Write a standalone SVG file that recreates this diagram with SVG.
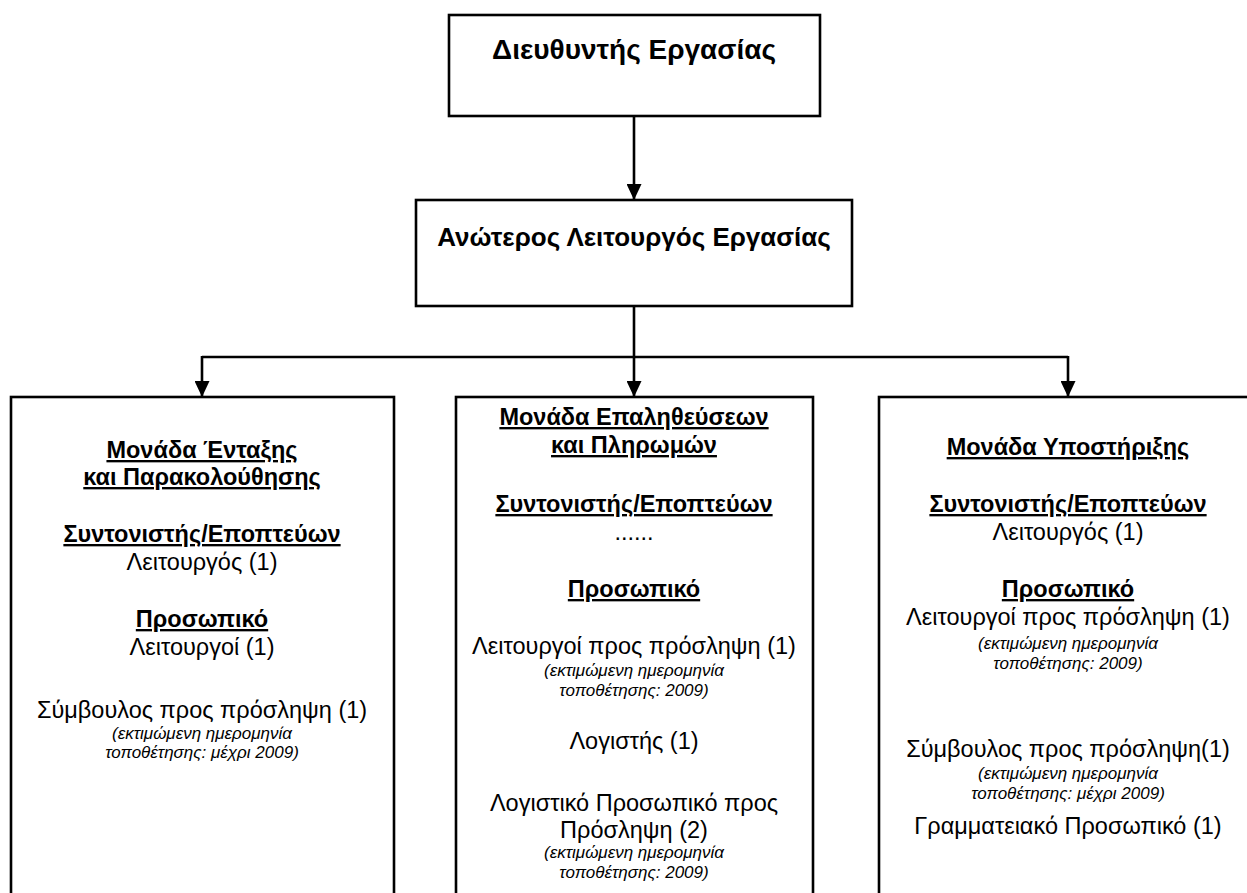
<svg xmlns="http://www.w3.org/2000/svg" width="1247" height="893" viewBox="0 0 1247 893">
<style>
.box{fill:#fff;stroke:#000;stroke-width:2.6}
.ln{fill:none;stroke:#000;stroke-width:2.6}
text{font-family:"Liberation Sans",Arial,sans-serif;fill:#000;text-anchor:middle}
.t1{font-size:28px;font-weight:bold}
.t2{font-size:26px;font-weight:bold}
.h{font-size:23.5px;font-weight:bold;text-decoration:underline}
.r{font-size:23.5px}
.i{font-size:17px;font-style:italic}
</style>
<defs>
<marker id="ah" viewBox="0 0 16 15" refX="16" refY="7.5" markerWidth="16" markerHeight="15" markerUnits="userSpaceOnUse" orient="auto">
<path d="M0,0 L16,7.5 L0,15 Z" fill="#000"/>
</marker>
</defs>
<g id="connectors">
<line class="ln" x1="634" y1="116" x2="634" y2="200" marker-end="url(#ah)"/>
<line class="ln" x1="634" y1="306" x2="634" y2="357"/>
<line class="ln" x1="202" y1="357" x2="1068" y2="357"/>
<line class="ln" x1="202" y1="356" x2="202" y2="397" marker-end="url(#ah)"/>
<line class="ln" x1="634" y1="357" x2="634" y2="397" marker-end="url(#ah)"/>
<line class="ln" x1="1068" y1="356" x2="1068" y2="397" marker-end="url(#ah)"/>
</g>
<g id="director">
<rect class="box" x="449" y="15" width="371" height="101"/>
<text class="t1" x="634" y="59">Διευθυντής Εργασίας</text>
</g>
<g id="senior">
<rect class="box" x="416" y="200" width="436" height="106"/>
<text class="t2" x="634" y="246">Ανώτερος Λειτουργός Εργασίας</text>
</g>
<g id="unit-integration">
<rect class="box" x="11" y="397" width="383" height="520"/>
<text class="h" x="202" y="458">Μονάδα Ένταξης</text>
<text class="h" x="202" y="485">και Παρακολούθησης</text>
<text class="h" x="202" y="542">Συντονιστής/Εποπτεύων</text>
<text class="r" x="202" y="570">Λειτουργός (1)</text>
<text class="h" x="202" y="627">Προσωπικό</text>
<text class="r" x="202" y="655">Λειτουργοί (1)</text>
<text class="r" x="202" y="718">Σύμβουλος προς πρόσληψη (1)</text>
<text class="i" x="202" y="739">(εκτιμώμενη ημερομηνία</text>
<text class="i" x="202" y="758">τοποθέτησης: μέχρι 2009)</text>
</g>
<g id="unit-verification">
<rect class="box" x="456" y="397" width="357" height="520"/>
<text class="h" x="634" y="425">Μονάδα Επαληθεύσεων</text>
<text class="h" x="634" y="453">και Πληρωμών</text>
<text class="h" x="634" y="512">Συντονιστής/Εποπτεύων</text>
<text class="r" x="634" y="540">......</text>
<text class="h" x="634" y="597">Προσωπικό</text>
<text class="r" x="634" y="654">Λειτουργοί προς πρόσληψη (1)</text>
<text class="i" x="634" y="676">(εκτιμώμενη ημερομηνία</text>
<text class="i" x="634" y="696">τοποθέτησης: 2009)</text>
<text class="r" x="634" y="749">Λογιστής (1)</text>
<text class="r" x="634" y="811">Λογιστικό Προσωπικό προς</text>
<text class="r" x="634" y="838">Πρόσληψη (2)</text>
<text class="i" x="634" y="858">(εκτιμώμενη ημερομηνία</text>
<text class="i" x="634" y="878">τοποθέτησης: 2009)</text>
</g>
<g id="unit-support">
<rect class="box" x="879" y="397" width="378" height="520"/>
<text class="h" x="1068" y="455">Μονάδα Υποστήριξης</text>
<text class="h" x="1068" y="512">Συντονιστής/Εποπτεύων</text>
<text class="r" x="1068" y="540">Λειτουργός (1)</text>
<text class="h" x="1068" y="597">Προσωπικό</text>
<text class="r" x="1068" y="625">Λειτουργοί προς πρόσληψη (1)</text>
<text class="i" x="1068" y="649">(εκτιμώμενη ημερομηνία</text>
<text class="i" x="1068" y="669">τοποθέτησης: 2009)</text>
<text class="r" x="1068" y="757">Σύμβουλος προς πρόσληψη(1)</text>
<text class="i" x="1068" y="779">(εκτιμώμενη ημερομηνία</text>
<text class="i" x="1068" y="799">τοποθέτησης: μέχρι 2009)</text>
<text class="r" x="1068" y="834">Γραμματειακό Προσωπικό (1)</text>
</g>
</svg>
